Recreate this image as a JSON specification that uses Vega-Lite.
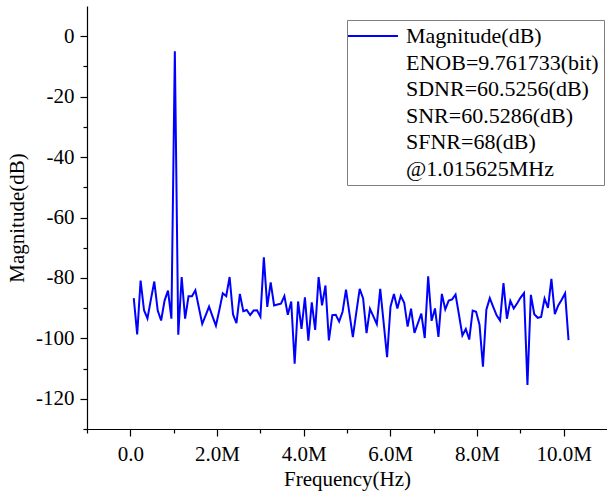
{
  "$schema": "https://vega.github.io/schema/vega-lite/v6.json",
  "width": 520,
  "height": 423,
  "autosize": "none",
  "padding": {"left": 87, "top": 6, "right": 0, "bottom": 69},
  "background": "white",
  "config": {
    "view": {"stroke": null},
    "axis": {
      "grid": false,
      "domainColor": "black",
      "domainWidth": 1.2,
      "tickColor": "black",
      "tickWidth": 1.2,
      "labelColor": "black",
      "titleColor": "black",
      "labelFont": "Liberation Serif",
      "titleFont": "Liberation Serif",
      "labelFontSize": 21,
      "titleFontSize": 21,
      "titleFontWeight": "normal"
    }
  },
  "data": {
    "values": [
      {"f": 79000, "m": -86.7, "s": "Magnitude(dB)"},
      {"f": 158000, "m": -98.7, "s": "Magnitude(dB)"},
      {"f": 237000, "m": -80.9, "s": "Magnitude(dB)"},
      {"f": 316000, "m": -90.7, "s": "Magnitude(dB)"},
      {"f": 395000, "m": -93.4, "s": "Magnitude(dB)"},
      {"f": 474000, "m": -87.2, "s": "Magnitude(dB)"},
      {"f": 553000, "m": -81.2, "s": "Magnitude(dB)"},
      {"f": 632000, "m": -90.8, "s": "Magnitude(dB)"},
      {"f": 711000, "m": -94.1, "s": "Magnitude(dB)"},
      {"f": 790000, "m": -87.5, "s": "Magnitude(dB)"},
      {"f": 869000, "m": -84.2, "s": "Magnitude(dB)"},
      {"f": 948000, "m": -93.5, "s": "Magnitude(dB)"},
      {"f": 1027000, "m": -5.0, "s": "Magnitude(dB)"},
      {"f": 1106000, "m": -98.8, "s": "Magnitude(dB)"},
      {"f": 1185000, "m": -79.7, "s": "Magnitude(dB)"},
      {"f": 1264000, "m": -93.5, "s": "Magnitude(dB)"},
      {"f": 1343000, "m": -86.1, "s": "Magnitude(dB)"},
      {"f": 1422000, "m": -86.1, "s": "Magnitude(dB)"},
      {"f": 1501000, "m": -84.1, "s": "Magnitude(dB)"},
      {"f": 1580000, "m": -89.7, "s": "Magnitude(dB)"},
      {"f": 1659000, "m": -95.2, "s": "Magnitude(dB)"},
      {"f": 1738000, "m": -92.4, "s": "Magnitude(dB)"},
      {"f": 1817000, "m": -89.5, "s": "Magnitude(dB)"},
      {"f": 1896000, "m": -92.7, "s": "Magnitude(dB)"},
      {"f": 1975000, "m": -95.8, "s": "Magnitude(dB)"},
      {"f": 2054000, "m": -90.6, "s": "Magnitude(dB)"},
      {"f": 2133000, "m": -85.1, "s": "Magnitude(dB)"},
      {"f": 2212000, "m": -86.0, "s": "Magnitude(dB)"},
      {"f": 2291000, "m": -79.7, "s": "Magnitude(dB)"},
      {"f": 2370000, "m": -92.1, "s": "Magnitude(dB)"},
      {"f": 2449000, "m": -95.0, "s": "Magnitude(dB)"},
      {"f": 2528000, "m": -85.3, "s": "Magnitude(dB)"},
      {"f": 2607000, "m": -91.0, "s": "Magnitude(dB)"},
      {"f": 2686000, "m": -90.6, "s": "Magnitude(dB)"},
      {"f": 2765000, "m": -92.3, "s": "Magnitude(dB)"},
      {"f": 2844000, "m": -90.8, "s": "Magnitude(dB)"},
      {"f": 2923000, "m": -90.7, "s": "Magnitude(dB)"},
      {"f": 3002000, "m": -92.8, "s": "Magnitude(dB)"},
      {"f": 3081000, "m": -73.2, "s": "Magnitude(dB)"},
      {"f": 3160000, "m": -89.6, "s": "Magnitude(dB)"},
      {"f": 3239000, "m": -81.5, "s": "Magnitude(dB)"},
      {"f": 3318000, "m": -89.1, "s": "Magnitude(dB)"},
      {"f": 3397000, "m": -88.8, "s": "Magnitude(dB)"},
      {"f": 3476000, "m": -88.5, "s": "Magnitude(dB)"},
      {"f": 3555000, "m": -86.0, "s": "Magnitude(dB)"},
      {"f": 3634000, "m": -92.2, "s": "Magnitude(dB)"},
      {"f": 3713000, "m": -87.8, "s": "Magnitude(dB)"},
      {"f": 3792000, "m": -108.4, "s": "Magnitude(dB)"},
      {"f": 3871000, "m": -87.8, "s": "Magnitude(dB)"},
      {"f": 3950000, "m": -96.9, "s": "Magnitude(dB)"},
      {"f": 4029000, "m": -86.4, "s": "Magnitude(dB)"},
      {"f": 4108000, "m": -100.8, "s": "Magnitude(dB)"},
      {"f": 4187000, "m": -88.1, "s": "Magnitude(dB)"},
      {"f": 4266000, "m": -97.2, "s": "Magnitude(dB)"},
      {"f": 4345000, "m": -79.7, "s": "Magnitude(dB)"},
      {"f": 4424000, "m": -89.1, "s": "Magnitude(dB)"},
      {"f": 4503000, "m": -82.5, "s": "Magnitude(dB)"},
      {"f": 4582000, "m": -100.7, "s": "Magnitude(dB)"},
      {"f": 4661000, "m": -92.3, "s": "Magnitude(dB)"},
      {"f": 4740000, "m": -92.2, "s": "Magnitude(dB)"},
      {"f": 4819000, "m": -94.4, "s": "Magnitude(dB)"},
      {"f": 4898000, "m": -91.2, "s": "Magnitude(dB)"},
      {"f": 4977000, "m": -83.9, "s": "Magnitude(dB)"},
      {"f": 5056000, "m": -91.7, "s": "Magnitude(dB)"},
      {"f": 5135000, "m": -99.6, "s": "Magnitude(dB)"},
      {"f": 5214000, "m": -91.5, "s": "Magnitude(dB)"},
      {"f": 5293000, "m": -83.6, "s": "Magnitude(dB)"},
      {"f": 5372000, "m": -86.8, "s": "Magnitude(dB)"},
      {"f": 5451000, "m": -98.3, "s": "Magnitude(dB)"},
      {"f": 5530000, "m": -90.2, "s": "Magnitude(dB)"},
      {"f": 5609000, "m": -92.7, "s": "Magnitude(dB)"},
      {"f": 5688000, "m": -95.3, "s": "Magnitude(dB)"},
      {"f": 5767000, "m": -83.6, "s": "Magnitude(dB)"},
      {"f": 5846000, "m": -94.9, "s": "Magnitude(dB)"},
      {"f": 5925000, "m": -106.2, "s": "Magnitude(dB)"},
      {"f": 6004000, "m": -89.5, "s": "Magnitude(dB)"},
      {"f": 6083000, "m": -85.3, "s": "Magnitude(dB)"},
      {"f": 6162000, "m": -90.1, "s": "Magnitude(dB)"},
      {"f": 6241000, "m": -85.9, "s": "Magnitude(dB)"},
      {"f": 6320000, "m": -88.2, "s": "Magnitude(dB)"},
      {"f": 6399000, "m": -96.1, "s": "Magnitude(dB)"},
      {"f": 6478000, "m": -90.2, "s": "Magnitude(dB)"},
      {"f": 6557000, "m": -98.2, "s": "Magnitude(dB)"},
      {"f": 6636000, "m": -95.0, "s": "Magnitude(dB)"},
      {"f": 6715000, "m": -91.8, "s": "Magnitude(dB)"},
      {"f": 6794000, "m": -99.9, "s": "Magnitude(dB)"},
      {"f": 6873000, "m": -79.5, "s": "Magnitude(dB)"},
      {"f": 6952000, "m": -94.2, "s": "Magnitude(dB)"},
      {"f": 7031000, "m": -90.1, "s": "Magnitude(dB)"},
      {"f": 7110000, "m": -99.5, "s": "Magnitude(dB)"},
      {"f": 7189000, "m": -85.3, "s": "Magnitude(dB)"},
      {"f": 7268000, "m": -90.4, "s": "Magnitude(dB)"},
      {"f": 7347000, "m": -87.5, "s": "Magnitude(dB)"},
      {"f": 7426000, "m": -87.1, "s": "Magnitude(dB)"},
      {"f": 7505000, "m": -85.5, "s": "Magnitude(dB)"},
      {"f": 7584000, "m": -92.2, "s": "Magnitude(dB)"},
      {"f": 7663000, "m": -99.0, "s": "Magnitude(dB)"},
      {"f": 7742000, "m": -96.9, "s": "Magnitude(dB)"},
      {"f": 7821000, "m": -100.4, "s": "Magnitude(dB)"},
      {"f": 7900000, "m": -90.8, "s": "Magnitude(dB)"},
      {"f": 7979000, "m": -91.2, "s": "Magnitude(dB)"},
      {"f": 8058000, "m": -95.5, "s": "Magnitude(dB)"},
      {"f": 8137000, "m": -109.4, "s": "Magnitude(dB)"},
      {"f": 8216000, "m": -90.5, "s": "Magnitude(dB)"},
      {"f": 8295000, "m": -86.7, "s": "Magnitude(dB)"},
      {"f": 8374000, "m": -89.6, "s": "Magnitude(dB)"},
      {"f": 8453000, "m": -92.4, "s": "Magnitude(dB)"},
      {"f": 8532000, "m": -94.1, "s": "Magnitude(dB)"},
      {"f": 8611000, "m": -81.7, "s": "Magnitude(dB)"},
      {"f": 8690000, "m": -93.5, "s": "Magnitude(dB)"},
      {"f": 8769000, "m": -87.6, "s": "Magnitude(dB)"},
      {"f": 8848000, "m": -90.1, "s": "Magnitude(dB)"},
      {"f": 8927000, "m": -88.4, "s": "Magnitude(dB)"},
      {"f": 9006000, "m": -86.5, "s": "Magnitude(dB)"},
      {"f": 9085000, "m": -85.0, "s": "Magnitude(dB)"},
      {"f": 9164000, "m": -115.4, "s": "Magnitude(dB)"},
      {"f": 9243000, "m": -85.6, "s": "Magnitude(dB)"},
      {"f": 9322000, "m": -92.0, "s": "Magnitude(dB)"},
      {"f": 9401000, "m": -93.2, "s": "Magnitude(dB)"},
      {"f": 9480000, "m": -92.9, "s": "Magnitude(dB)"},
      {"f": 9559000, "m": -86.8, "s": "Magnitude(dB)"},
      {"f": 9638000, "m": -89.9, "s": "Magnitude(dB)"},
      {"f": 9717000, "m": -80.3, "s": "Magnitude(dB)"},
      {"f": 9796000, "m": -92.0, "s": "Magnitude(dB)"},
      {"f": 9875000, "m": -89.1, "s": "Magnitude(dB)"},
      {"f": 9954000, "m": -87.2, "s": "Magnitude(dB)"},
      {"f": 10033000, "m": -85.1, "s": "Magnitude(dB)"},
      {"f": 10112000, "m": -100.6, "s": "Magnitude(dB)"}
    ]
  },
  "mark": {"type": "line", "strokeWidth": 2, "clip": true},
  "encoding": {
    "x": {
      "field": "f",
      "type": "quantitative",
      "scale": {"domain": [-1000000, 11000000], "nice": false, "zero": false},
      "axis": {
        "title": "Frequency(Hz)",
        "values": [-1000000, 0, 1000000, 2000000, 3000000, 4000000, 5000000, 6000000, 7000000, 8000000, 9000000, 10000000],
        "labelExpr": "datum.value % 2000000 != 0 ? '' : (datum.value == 0 ? '0.0' : format(datum.value / 1000000, '.1f') + 'M')",
        "tickSize": {"condition": {"test": "datum.value % 2000000 != 0", "value": 4}, "value": 7},
        "labelPadding": 7,
        "titlePadding": 4,
        "labelFlush": false,
        "labelOverlap": false
      }
    },
    "y": {
      "field": "m",
      "type": "quantitative",
      "scale": {"domain": [-130, 10], "nice": false, "zero": false},
      "axis": {
        "title": "Magnitude(dB)",
        "values": [-130, -120, -110, -100, -90, -80, -70, -60, -50, -40, -30, -20, -10, 0],
        "labelExpr": "datum.value % 20 != 0 ? '' : datum.value + ''",
        "tickSize": {"condition": {"test": "datum.value % 20 != 0", "value": 4}, "value": 7},
        "labelPadding": 6,
        "titlePadding": 8,
        "labelFlush": false,
        "labelOverlap": false
      }
    },
    "stroke": {
      "field": "s",
      "type": "nominal",
      "scale": {
        "domain": ["Magnitude(dB)", "ENOB=9.761733(bit)", "SDNR=60.5256(dB)", "SNR=60.5286(dB)", "SFNR=68(dB)", "@1.015625MHz"],
        "range": ["#0000ff", "rgba(0,0,0,0)", "rgba(0,0,0,0)", "rgba(0,0,0,0)", "rgba(0,0,0,0)", "rgba(0,0,0,0)"]
      },
      "legend": {
        "orient": "none",
        "legendX": 260,
        "legendY": 14,
        "title": null,
        "strokeColor": "#808080",
        "fillColor": "white",
        "padding": 5,
        "labelFont": "Liberation Serif",
        "labelFontSize": 22,
        "labelColor": "black",
        "labelOffset": 32,
        "labelLimit": 400,
        "rowPadding": 4.5,
        "symbolType": "M-3,0H7",
        "symbolSize": 100,
        "symbolStrokeWidth": 2
      }
    }
  }
}
